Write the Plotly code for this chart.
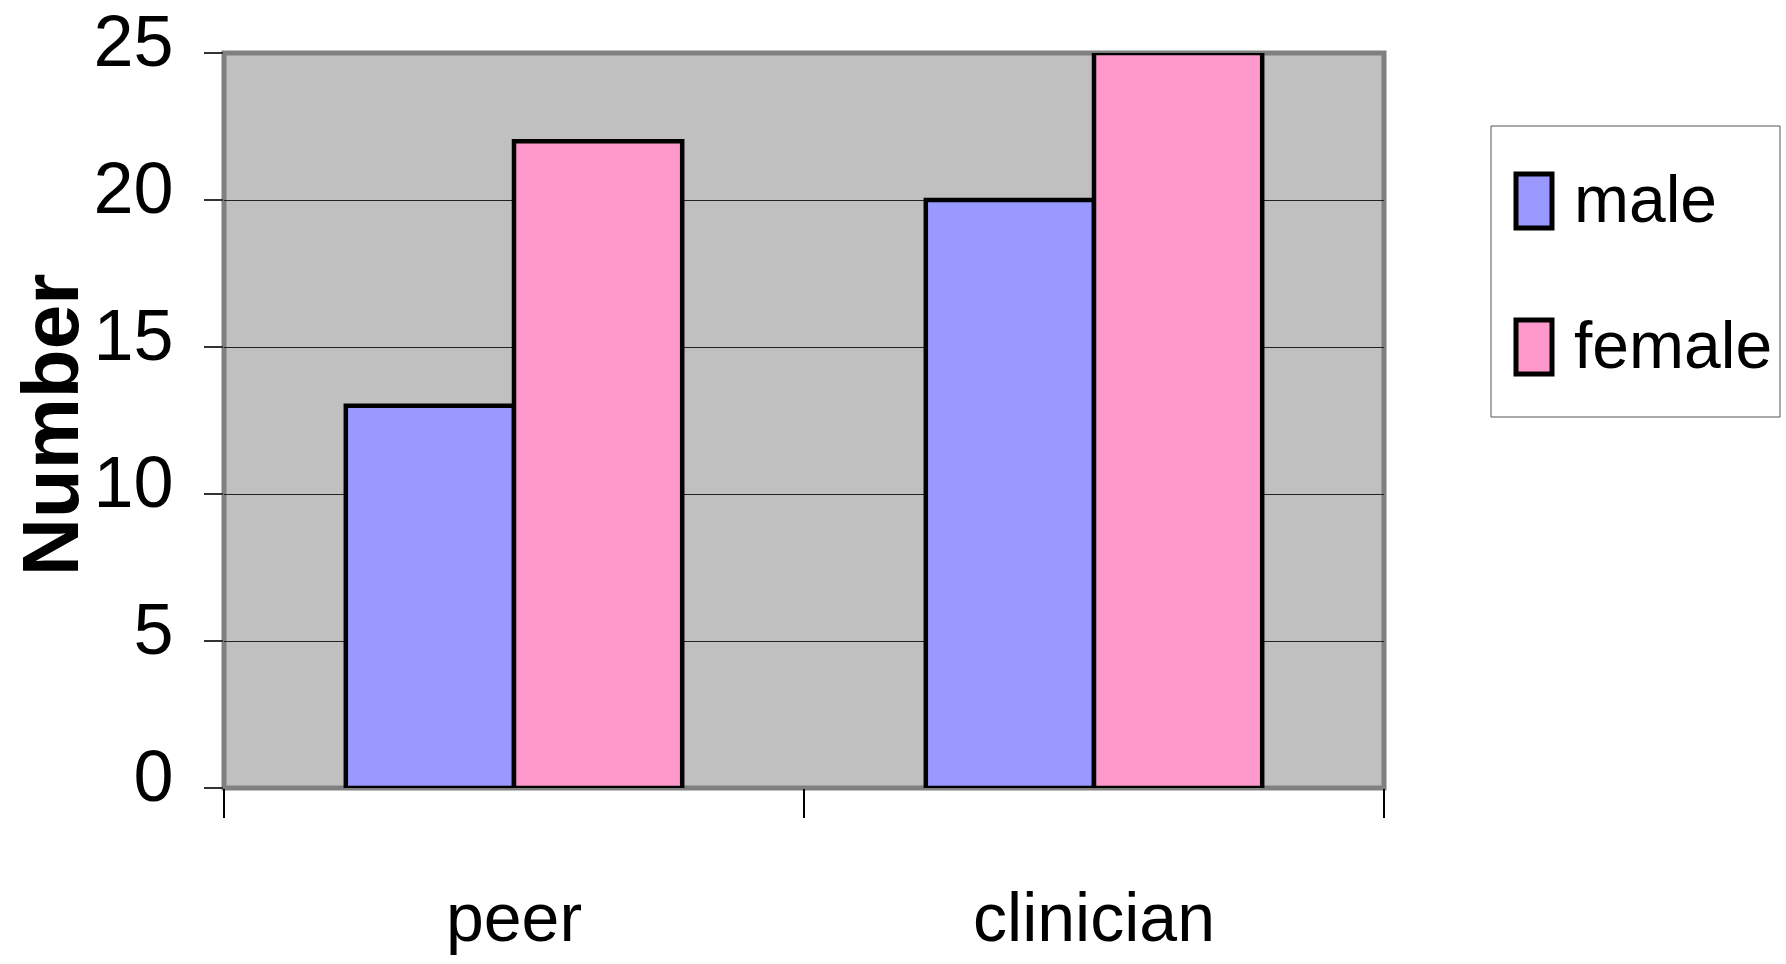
import plotly.graph_objects as go

categories = ["peer", "clinician"]
series_names = ["male", "female"]
male_values = [13, 20]
female_values = [22, 25]
series_colors = ["#9999FF", "#FF99CC"]
y_ticks = [0, 5, 10, 15, 20, 25]
y_title = "Number"

W, H = 1786, 964
PL, PR, PT, PB = 224, 1384, 53, 788  # plot area in page pixels
L, T = PL, PT
R = W - PR
B = H - PB
pw, ph = PR - PL, PB - PT

def px_x(px):
    return (px - PL) / pw

def px_y(py):
    return (PB - py) / ph

FONT = "Liberation Sans, Arial, sans-serif"

fig = go.Figure()
for name, vals, col in zip(series_names, [male_values, female_values], series_colors):
    fig.add_trace(go.Bar(
        x=categories, y=vals, name=name,
        marker=dict(color=col, line=dict(color="black", width=4.5)),
        showlegend=False,
    ))

fig.update_layout(
    width=W, height=H,
    margin=dict(l=L, r=R, t=T, b=B, pad=0),
    paper_bgcolor="white",
    plot_bgcolor="#C0C0C0",
    barmode="group",
    bargap=0.42,
    bargroupgap=0,
    font=dict(family=FONT, size=66, color="black"),
)

fig.update_xaxes(
    type="category",
    tickson="boundaries",
    ticks="outside", ticklen=29, tickwidth=1.5, tickcolor="black",
    showgrid=False, showline=False, zeroline=False,
    tickfont=dict(family=FONT, size=68),
    ticklabelstandoff=84,
    ticklabeloverflow="allow",
    automargin=False,
)
fig.update_yaxes(
    range=[0, 25],
    tickvals=y_ticks,
    ticks="outside", ticklen=19, tickwidth=1.5, tickcolor="#333333",
    showgrid=True, gridcolor="#222222", gridwidth=1,
    zeroline=False, showline=False,
    tickfont=dict(family=FONT, size=72),
    ticklabelstandoff=16,
    ticklabelshift=-12,
    ticklabeloverflow="allow",
    automargin=False,
)

# y-axis title
fig.add_annotation(xref="paper", yref="paper", x=px_x(50), y=px_y(425),
                   text="<b>" + y_title + "</b>", textangle=-90, showarrow=False,
                   xanchor="center", yanchor="middle",
                   font=dict(family=FONT, size=80, color="black"))

# plot area border
fig.add_shape(type="rect", xref="paper", yref="paper", x0=0, x1=1, y0=0, y1=1,
              line=dict(color="#808080", width=5), fillcolor="rgba(0,0,0,0)", layer="below")

# custom legend
fig.add_shape(type="rect", xref="paper", yref="paper",
              x0=px_x(1491), x1=px_x(1780), y0=px_y(417), y1=px_y(126),
              line=dict(color="#555555", width=1), fillcolor="white")
swatch_centers = [201, 347]
text_centers = [199, 345]
for name, col, cy, ty in zip(series_names, series_colors, swatch_centers, text_centers):
    fig.add_shape(type="rect", xref="paper", yref="paper",
                  x0=px_x(1516), x1=px_x(1552), y0=px_y(cy + 27), y1=px_y(cy - 27),
                  line=dict(color="black", width=5), fillcolor=col)
    fig.add_annotation(xref="paper", yref="paper", x=px_x(1572), y=px_y(ty),
                       text=name, showarrow=False, xanchor="left", yanchor="middle",
                       font=dict(family=FONT, size=66, color="black"))

fig.write_html("out.html", config={"displayModeBar": False},
               post_script="document.body.style.margin='0';")
